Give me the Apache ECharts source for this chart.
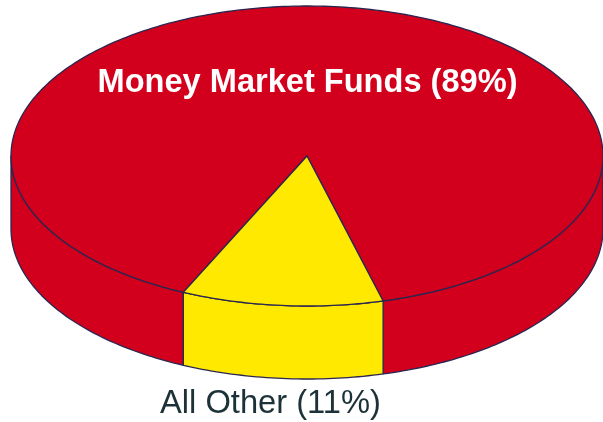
<!DOCTYPE html>
<html>
<head>
<meta charset="utf-8">
<title>Money Market Funds</title>
<style>
html,body{margin:0;padding:0;background:#fff;}
#main{width:603px;height:422px;}
</style>
<script src="https://cdn.jsdelivr.net/npm/echarts@6/dist/echarts.min.js"></script>
</head>
<body>
<div id="main"></div>
<script>
var names = ['Money Market Funds (89%)', 'All Other (11%)'];
var shares = [89, 11];

var colors = ['#d2001c', '#ffe900'];
var lineColor = '#2b2650';
var textColors = ['#ffffff', '#1c3238'];
var labelPos = [[307.5, 83], [270.5, 404]];
var labelFonts = ['bold 32.6px "Liberation Sans", Arial, sans-serif', '32.7px "Liberation Sans", Arial, sans-serif'];
// 立体饼图的几何参数
var cx = 307, cy = 156, rx = 296, ry = 150, depth = 73;
var startDeg = 114.7;

var total = shares.reduce(function(a, b){ return a + b; }, 0);

function rim(t, dy){
	var r = t * Math.PI / 180;
	return [cx + rx * Math.cos(r), cy + ry * Math.sin(r) + dy];
}
function arcPoints(from, to, dy){
	var pts = [];
	var n = Math.max(2, Math.ceil(Math.abs(to - from)));
	for (var i = 0; i <= n; i++) {
		pts.push(rim(from + (to - from) * i / n, dy));
	}
	return pts;
}
// 侧面：只画朝前的部分 (0~180, 360~540)
function sideShapes(from, to, color){
	var out = [];
	[[0, 180], [360, 540]].forEach(function(win){
		var a = Math.max(from, win[0]), b = Math.min(to, win[1]);
		if (b <= a) return;
		var pts = arcPoints(a, b, 0).concat(arcPoints(b, a, depth));
		out.push({
			type: 'polygon',
			shape: {points: pts},
			style: {fill: color, stroke: lineColor, lineWidth: 1.3, lineJoin: 'round'}
		});
	});
	return out;
}

function renderSlice(params, api){
	var i = params.dataIndex;
	var before = 0;
	for (var k = 0; k < i; k++) before += shares[k];
	var from = startDeg + before / total * 360;
	var to = from + api.value(0) / total * 360;
	var children = sideShapes(from, to, colors[i]);
	children.push({
		type: 'polygon',
		shape: {points: [[cx, cy]].concat(arcPoints(from, to, 0))},
		style: {fill: colors[i], stroke: lineColor, lineWidth: 1.3, lineJoin: 'miter'}
	});
	children.push({
		type: 'text',
		z2: 10,
		style: {
			text: names[i],
			x: labelPos[i][0],
			y: labelPos[i][1],
			align: 'center',
			verticalAlign: 'middle',
			fill: textColors[i],
			font: labelFonts[i]
		}
	});
	return {type: 'group', children: children};
}

var pie = echarts.init(document.getElementById('main'), null, {renderer: 'canvas'});
var option = {
	backgroundColor: '#ffffff',
	animation: false,
	series: [{
		type: 'custom',
		coordinateSystem: 'none',
		renderItem: renderSlice,
		data: shares.map(function(v, i){ return {name: names[i], value: [v]}; })
	}]
};
pie.setOption(option);
</script>
</body>
</html>
